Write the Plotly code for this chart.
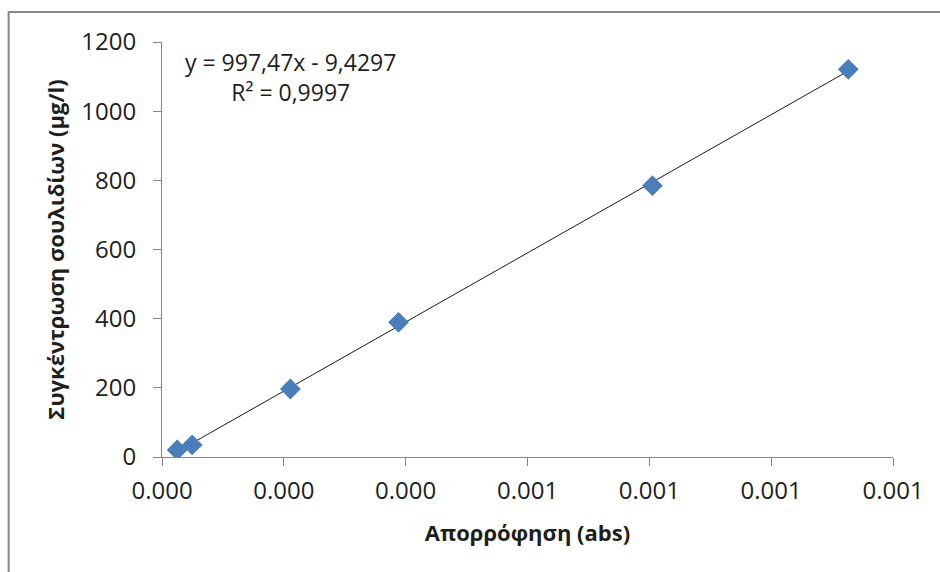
import numpy as np
import plotly.graph_objects as go

# Data
absorbance = [0.0000249, 0.0000495, 0.0002107, 0.0003883, 0.000805, 0.0011266]
concentration = [20.2, 35.0, 196.6, 389.5, 784.5, 1121.0]

x_title = "Απορρόφηση (abs)"
y_title = "Συγκέντρωση σουλιδίων (μg/l)"
eq_text = "y = 997,47x - 9,4297<br>R² = 0,9997"

x_ticks = [0, 0.0002, 0.0004, 0.0006, 0.0008, 0.0010, 0.0012]
y_ticks = [0, 200, 400, 600, 800, 1000, 1200]

# linear trendline fitted from the data
slope, intercept = np.polyfit(absorbance, concentration, 1)
tx = [min(absorbance), max(absorbance)]
ty = [slope * v + intercept for v in tx]

FONT = "Open Sans"
AX = "#868686"
TXT = "#1e1e1e"

fig = go.Figure()
fig.add_trace(go.Scatter(x=tx, y=ty, mode="lines",
                         line=dict(color="#1a1a1a", width=1), showlegend=False,
                         hoverinfo="skip"))
fig.add_trace(go.Scatter(x=absorbance, y=concentration, mode="markers",
                         marker=dict(symbol="diamond", size=16, color="#4A7EBB",
                                     line=dict(width=0)),
                         showlegend=False))

fig.update_layout(
    width=940, height=572,
    margin=dict(l=161.5, r=46.7, t=42, b=115),
    paper_bgcolor="white", plot_bgcolor="white",
    font=dict(family=FONT, color=TXT, size=24),
    xaxis=dict(range=[0, 0.0012], tickvals=x_ticks, tickformat=".3f",
               showgrid=False, zeroline=False, showline=True, linecolor=AX,
               linewidth=1, ticks="outside", tickcolor=AX, ticklen=8,
               ticklabelstandoff=4,
               tickfont=dict(size=24, family=FONT, color=TXT),
               title=dict(text="<b>" + x_title + "</b>", standoff=20,
                          font=dict(size=22, family=FONT, color=TXT))),
    yaxis=dict(range=[0, 1200], tickvals=y_ticks,
               showgrid=False, zeroline=False, showline=True, linecolor=AX,
               linewidth=1, ticks="outside", tickcolor=AX, ticklen=8,
               ticklabelstandoff=12,
               tickfont=dict(size=24, family=FONT, color=TXT),
               title=dict(text="<b>" + y_title + "</b>", standoff=10,
                          font=dict(size=22, family=FONT, color=TXT))),
    annotations=[dict(text=eq_text, xref="x", yref="y", x=0.000211, y=1100,
                      showarrow=False, align="center",
                      font=dict(size=23, family=FONT, color=TXT))],
    shapes=[dict(type="rect", xref="paper", yref="paper",
                 x0=-0.2098, x1=1.3, y0=-0.6, y1=1.0723,
                 line=dict(color="#878787", width=2), fillcolor="rgba(0,0,0,0)",
                 layer="below")],
)

fig.write_html("out.html")
